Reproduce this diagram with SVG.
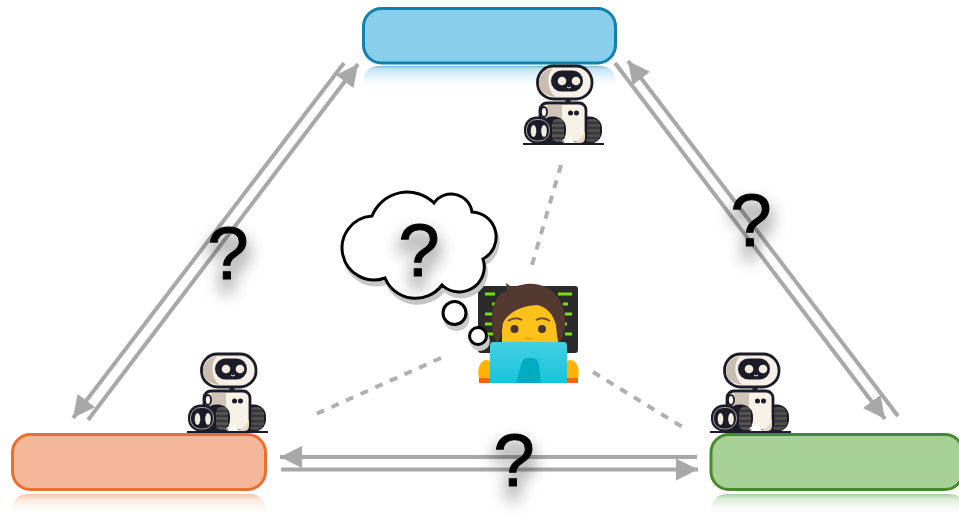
<svg xmlns="http://www.w3.org/2000/svg" width="959" height="523" viewBox="0 0 959 523">
<style>
.box{stroke-width:3}
.arr{fill:none;stroke:#a8a8a8;stroke-width:4}
.dash{fill:none;stroke:#b0b0b0;stroke-width:4;stroke-dasharray:8 8}
.q{font-family:"Liberation Sans",Arial,sans-serif;font-size:74px;fill:#000;stroke:#000;stroke-width:1.1;text-anchor:middle;filter:url(#glow)}
.ck{fill:#1b1c28}
.cloud{fill:#fff;stroke:#000;stroke-width:3}
.shade{fill:#c8c8c8;stroke:#c8c8c8;stroke-width:3}
</style>
<defs>
<filter id="glow" x="-150%" y="-60%" width="400%" height="260%">
<feMorphology in="SourceAlpha" operator="dilate" radius="3" result="d"/>
<feOffset in="d" dx="0" dy="11" result="o"/>
<feGaussianBlur in="o" stdDeviation="8" result="b"/>
<feFlood flood-color="#000" flood-opacity="0.32"/>
<feComposite in2="b" operator="in" result="s"/>
<feMerge><feMergeNode in="s"/><feMergeNode in="SourceGraphic"/></feMerge>
</filter>
<marker id="ah" markerUnits="userSpaceOnUse" markerWidth="24" markerHeight="24" viewBox="0 0 24 24" refX="22" refY="12" orient="auto"><path d="M0 1L22 12L0 23L0 1Z" fill="#a8a8a8"/></marker>
<linearGradient id="fb" x1="0" y1="0" x2="0" y2="1"><stop offset="0" stop-color="#7fbcd8"/><stop offset=".12" stop-color="#c0e3f2"/><stop offset="1" stop-color="#fff" stop-opacity="0"/></linearGradient>
<linearGradient id="fo" x1="0" y1="0" x2="0" y2="1"><stop offset="0" stop-color="#f5c4aa"/><stop offset=".2" stop-color="#fbe4d8"/><stop offset="1" stop-color="#fff" stop-opacity="0"/></linearGradient>
<linearGradient id="fg" x1="0" y1="0" x2="0" y2="1"><stop offset="0" stop-color="#a9cca0"/><stop offset=".2" stop-color="#dcecd5"/><stop offset="1" stop-color="#fff" stop-opacity="0"/></linearGradient>
<linearGradient id="lap" x1="0" y1="0" x2="0" y2="1"><stop offset="0" stop-color="#45cfe2"/><stop offset="1" stop-color="#18c4dd"/></linearGradient>
<g id="robot">
<path d="M523 144H604" stroke="#1b1c28" stroke-width="1.8"/>
<rect x="537.500" y="66" width="54.500" height="33" rx="16" fill="#f6f0e8" stroke="#1b1c28" stroke-width="2.800"/>
<path d="M553 68C543 70 539 77 539 83C539 91 546 96 556 97C548 92 545 76 553 68Z" fill="#c9bdb0"/>
<rect x="551" y="70.500" width="32" height="21" rx="10.500" class="ck"/>
<circle cx="562" cy="81" r="4.300" fill="#f3ecdf"/>
<circle cx="576" cy="81" r="4.300" fill="#f3ecdf"/>
<path d="M567 87Q569 89 571 87" fill="none" stroke="#f3ecdf" stroke-width="1"/>
<rect x="565.500" y="98" width="5" height="6" class="ck"/>
<rect x="567" y="116.500" width="35" height="27" rx="12" class="ck"/>
<rect x="583" y="119" width="17" height="23" rx="7" fill="#4e4d4c"/>
<path d="M584 123H600M584 128H601M584 133H601M584 138H600" stroke="#1b1c28" stroke-width="1.200"/>
<rect x="540" y="103" width="46" height="40" rx="7" fill="#f8f1e8" stroke="#1b1c28" stroke-width="2.800"/>
<path d="M568 143Q582 143 585 130V138Q585 143 580 143Z" fill="#e4d8c8"/>
<rect x="547" y="105" width="15" height="16" fill="#cfc4b8"/>
<circle cx="570.500" cy="113" r="2.500" class="ck"/>
<circle cx="576.500" cy="113" r="2.500" class="ck"/>
<path d="M563 143L570 136L575 143Z" fill="#fff"/>
<rect x="540" y="116.500" width="26" height="27" rx="12" class="ck"/>
<rect x="552" y="119" width="12" height="23" rx="5" fill="#54534f"/>
<path d="M552 123H565M552 128H565M552 133H565M552 138H565" stroke="#1b1c28" stroke-width="1.200"/>
<ellipse cx="544" cy="112" rx="3" ry="5" fill="#f8f1e8" stroke="#1b1c28" stroke-width="1.800"/>
<rect x="524" y="116.500" width="28" height="27" rx="12.500" class="ck"/>
<rect x="526.500" y="119.500" width="23" height="21.500" rx="10" fill="none" stroke="#c9c4bc" stroke-width="0.800"/>
<ellipse cx="533.500" cy="131" rx="2.800" ry="6" fill="#f3ecdf"/>
<ellipse cx="544" cy="131" rx="2.800" ry="6" fill="#f3ecdf"/>
</g>
</defs>

<g id="node-top">
<path d="M363 90V84Q363 66 380 66H599Q616 66 616 84V90Z" fill="url(#fb)"/>
<rect class="box" x="363.500" y="8.500" width="252" height="54.500" rx="18" fill="#89cfec" stroke="#1180ab"/>
</g>
<g id="node-left">
<path d="M12 517V511Q12 494 29 494H249Q266 494 266 511V517Z" fill="url(#fo)"/>
<rect class="box" x="12.500" y="434.500" width="253" height="55" rx="18" fill="#f4b79a" stroke="#ea7030"/>
</g>
<g id="node-right">
<path d="M711 517V511Q711 494 728 494H948Q965 494 965 511V517Z" fill="url(#fg)"/>
<rect class="box" x="711" y="434.500" width="252" height="55" rx="18" fill="#a7d197" stroke="#47892e"/>
</g>

<g id="connectors">
<path class="arr" d="M344 63L73 418" marker-end="url(#ah)"/>
<path class="arr" d="M88 420L358 64" marker-end="url(#ah)"/>
<path class="arr" d="M615 63L885 419" marker-end="url(#ah)"/>
<path class="arr" d="M898 416L628 61" marker-end="url(#ah)"/>
<path class="arr" d="M697 457H280" marker-end="url(#ah)"/>
<path class="arr" d="M281 469.500H698" marker-end="url(#ah)"/>
<path class="dash" d="M561 165L532 265"/>
<path class="dash" d="M441 358L316 414"/>
<path class="dash" d="M593 372L684 428"/>
</g>

<g id="robot-top"><use href="#robot"/></g>
<g id="robot-left"><use href="#robot" x="-336" y="288"/></g>
<g id="robot-right"><use href="#robot" x="187" y="288"/></g>

<g id="person">
<rect x="478" y="286" width="100" height="67" rx="3" fill="#2b2b2b"/>
<path d="M485 294H495M492 304H496M485 314H492M485 324H492M485 334H493M545 294H552M558 294H572M563 304H568M565 314H572M563 324H567M565 334H572" stroke="#76e000" stroke-width="3"/>
<path d="M479 378C477 372 479 364 483 361C486 359 490 360 490 362V378ZM578 378C580 372 578 364 574 361C571 359 567 360 567 362V378Z" fill="#ffb300"/>
<path d="M479 383V378H490V383ZM578 383V378H567V383Z" fill="#f4670f"/>
<path d="M502 345V315C505 300 552 300 558 315V345Z" fill="#fcc21b"/>
<path d="M497 343C491 333 490 312 496 300C499 294 503 292 507 291L506 283C511 288 516 286 526 284C547 281 564 297 565 318C565.500 328 564 337 559 343C557 338 557 335 556 325C553 314 547 307 537 305C522 306 508 312 503 323C502 332 501 338 497 343Z" fill="#543930"/>
<path d="M508 321Q515 316 522 320M536 320Q543 316 550 321" fill="none" stroke="#6d4c41" stroke-width="2"/>
<circle cx="514.500" cy="329" r="4" fill="#49362e"/>
<circle cx="542" cy="329" r="4" fill="#49362e"/>
<path d="M524 337Q528.500 339 533 337Q528.500 342 524 337Z" fill="#e59600"/>
<path d="M493 342H564Q567 342 567 346V383H490V346Q490 342 493 342Z" fill="url(#lap)"/>
<path d="M516 383L521 365Q522 358 528 358H532Q538 358 539 365L541 383Z" fill="#00acc1"/>
</g>

<g id="thought">
<g transform="translate(2 5)">
<path class="shade" d="M372 216A38 38 0 0 1 434 203A21 21 0 0 1 472 212A25 25 0 0 1 483 259A25 25 0 0 1 442 285A33 33 0 0 1 385 278A32 32 0 1 1 372 216Z"/>
<circle class="shade" cx="454.500" cy="313" r="11.500"/>
<circle class="shade" cx="478" cy="336" r="8.500"/>
</g>
<path class="cloud" d="M372 216A38 38 0 0 1 434 203A21 21 0 0 1 472 212A25 25 0 0 1 483 259A25 25 0 0 1 442 285A33 33 0 0 1 385 278A32 32 0 1 1 372 216Z"/>
<circle class="cloud" cx="454.500" cy="313" r="11.500"/>
<circle class="cloud" cx="478" cy="336" r="8.500"/>
</g>

<g id="labels">
<text class="q" x="228" y="279">?</text>
<text class="q" x="751" y="246">?</text>
<text class="q" x="514" y="486">?</text>
<text class="q" x="419" y="276">?</text>
</g>
</svg>
